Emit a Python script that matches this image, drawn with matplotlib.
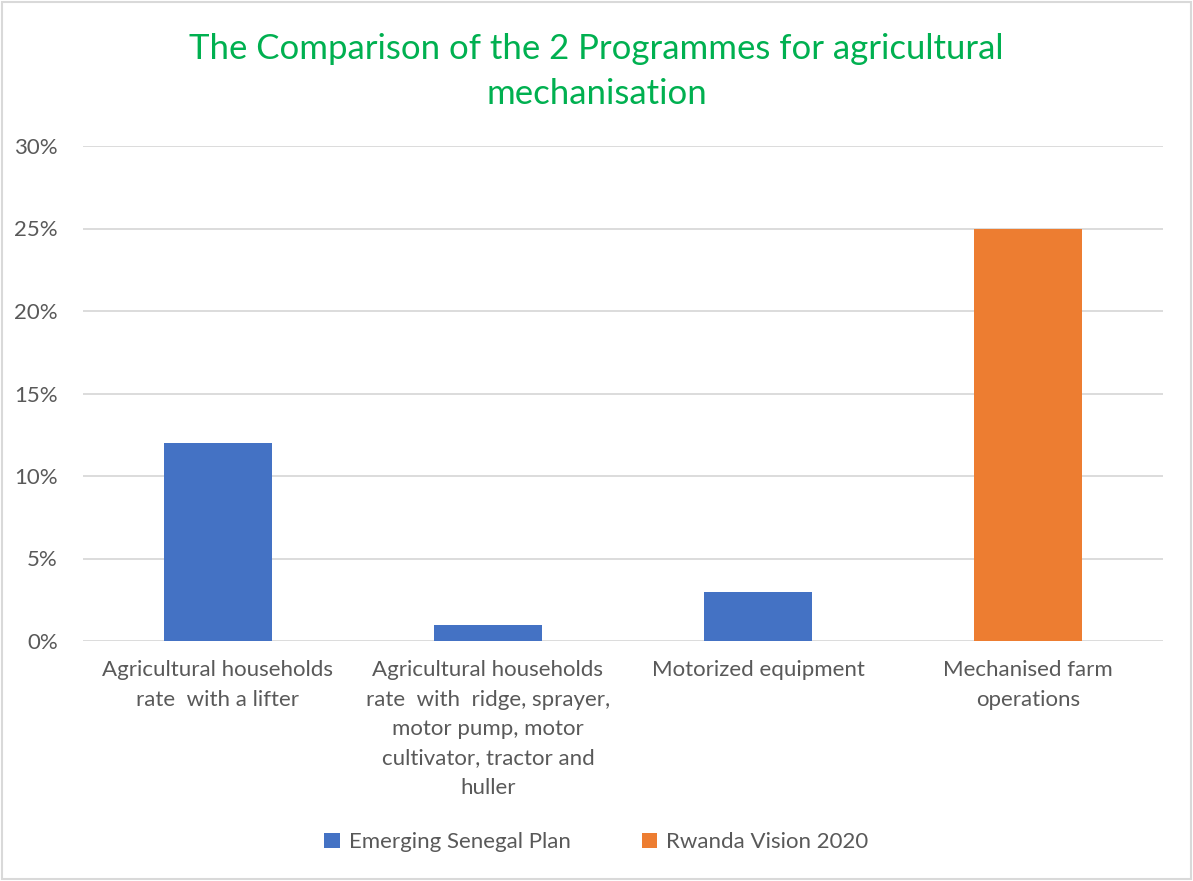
import matplotlib
matplotlib.use("Agg")
import matplotlib.pyplot as plt
from matplotlib.ticker import FuncFormatter
from matplotlib.patches import Rectangle

plt.rcParams['font.family'] = ['Lato', 'DejaVu Sans']

# data
categories = [
    "Agricultural households\nrate  with a lifter",
    "Agricultural households\nrate  with  ridge, sprayer,\nmotor pump, motor\ncultivator, tractor and\nhuller",
    "Motorized equipment",
    "Mechanised farm\noperations",
]
senegal = [0.12, 0.01, 0.03, 0.0]
rwanda = [0.0, 0.0, 0.0, 0.25]
series_names = ["Emerging Senegal Plan", "Rwanda Vision 2020"]
colors = ["#4472C4", "#ED7D31"]

fig = plt.figure(figsize=(11.93, 8.81), dpi=100)
ax = fig.add_axes([83/1193, 240/881, 1080/1193, 495/881])

x = range(len(categories))
ax.bar(x, senegal, width=0.4, color=colors[0], label=series_names[0], zorder=3)
ax.bar(x, rwanda, width=0.4, bottom=senegal, color=colors[1], label=series_names[1], zorder=3)

ax.set_xlim(-0.5, len(categories) - 0.5)
ax.set_ylim(0, 0.30)
ax.set_yticks([0, 0.05, 0.10, 0.15, 0.20, 0.25, 0.30])
ax.yaxis.set_major_formatter(FuncFormatter(lambda v, p: f"{v*100:.0f}%"))
ax.set_xticks(list(x))
ax.set_xticklabels(categories, linespacing=1.58)
ax.tick_params(axis='both', length=0, labelsize=16, colors="#595959")
ax.tick_params(axis='x', pad=14)
ax.tick_params(axis='y', pad=18)
ax.grid(axis='y', color="#D9D9D9", linewidth=1.3, zorder=0)
for s in ax.spines.values():
    s.set_visible(False)

fig.suptitle("The Comparison of the 2 Programmes for agricultural\nmechanisation",
             color="#00B050", fontsize=25, y=0.962, linespacing=1.5)

fig.legend(loc='lower center', bbox_to_anchor=(0.5, 0.01), ncol=2, frameon=False,
           fontsize=16, labelcolor="#595959", handlelength=0.7, handleheight=0.7,
           columnspacing=3.2, handletextpad=0.4)

fig.patches.append(Rectangle((0.002, 0.002), 0.996, 0.996, transform=fig.transFigure,
                             fill=False, edgecolor="#D9D9D9", linewidth=1.5))

fig.savefig("out.png", dpi=100)
